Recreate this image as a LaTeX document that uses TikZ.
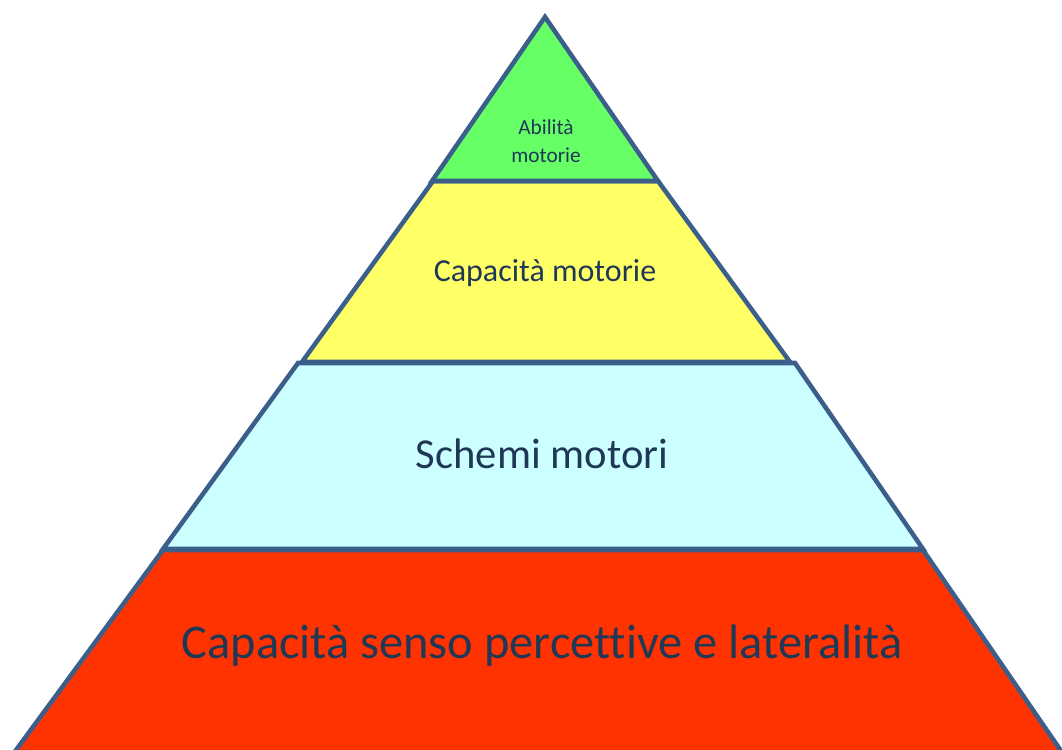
\documentclass[tikz,border=0pt]{standalone}
\usepackage{fontspec}
\setmainfont[Ligatures=CommonOff]{Carlito}
\usetikzlibrary{positioning}
\definecolor{edgeblue}{HTML}{3B5F8A}
\definecolor{inkblue}{HTML}{1F3856}
\definecolor{levgreen}{HTML}{66FF66}
\definecolor{levyellow}{HTML}{FFFF66}
\definecolor{levcyan}{HTML}{CCFFFF}
\definecolor{levred}{HTML}{FF3300}
\tikzset{level/.style={%
        draw=edgeblue,
        line width=3.4pt,
        line join=miter}}
\tikzset{label/.style={text=inkblue,align=center,inner sep=0pt}}

\begin{document}
\begin{tikzpicture}[x=0.75pt,y=-0.75pt]
  \useasboundingbox (0,0) rectangle (1062,749);
  \clip (0,0) rectangle (1062,749);
  \fill [white] (0,0) rectangle (1062,749);
  \draw [level,fill=levred] (163,550) -- (923,550) -- (1081,780) -- (-6,780) -- cycle;
  \draw [level,fill=levcyan] (298,363) -- (795,363) -- (923,549) -- (163,549) -- cycle;
  \draw [level,fill=levyellow] (433,181) -- (658,181) -- (790,362) -- (302,362) -- cycle;
  \draw [level,fill=levgreen] (545,17) -- (658,181) -- (432,181) -- cycle;
  \node [label,font=\fontsize{16}{21}\selectfont] (abil) at (546,141) {Abilità\\motorie};
  \node [label,font=\fontsize{24}{28}\selectfont] (capmot) at (545,273) {Capacità motorie};
  \node [label,font=\fontsize{32}{36}\selectfont] (schemi) at (542,454) {Schemi motori};
  \node [label,font=\fontsize{36.3}{40}\selectfont] (senso) at (542,646) {Capacità senso percettive e lateralità};
\end{tikzpicture}
\end{document}
